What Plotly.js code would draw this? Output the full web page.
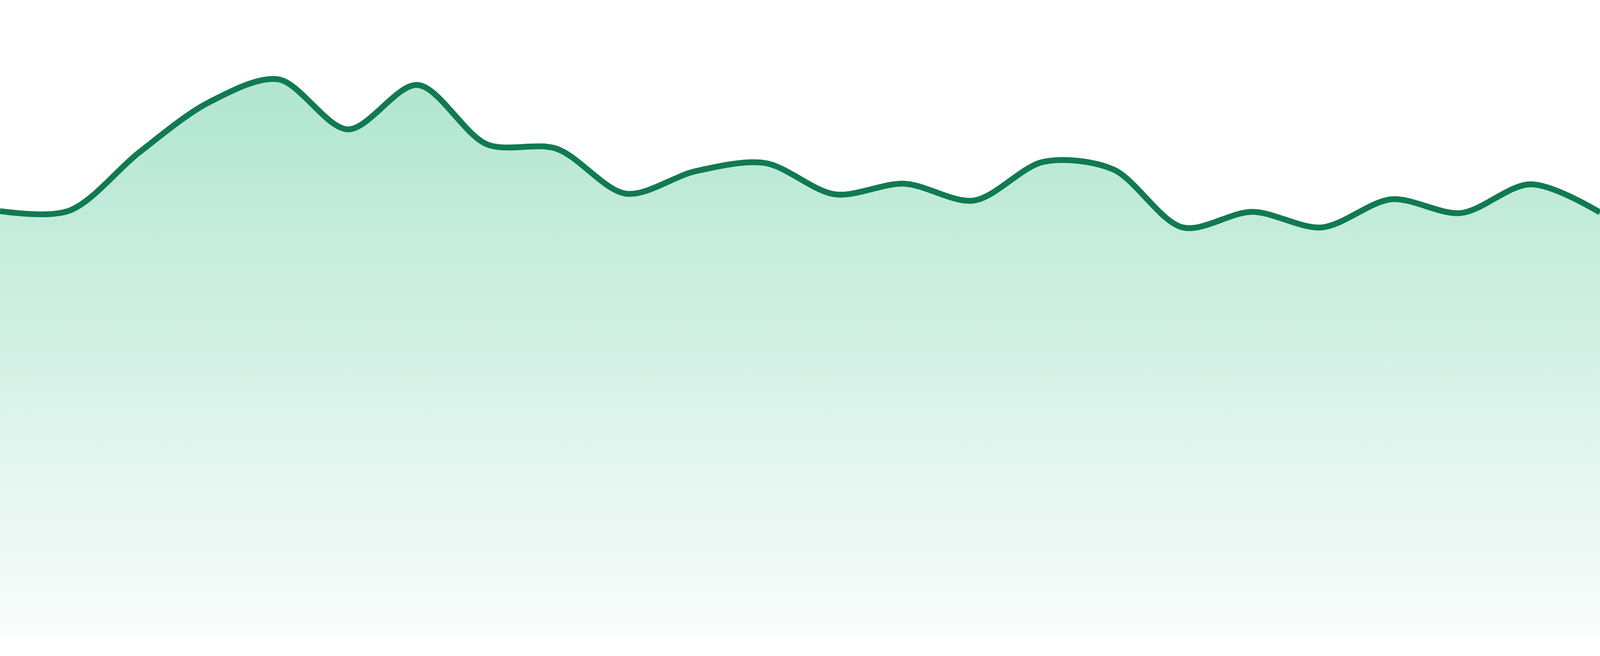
<!DOCTYPE html>
<html>
<head>
<meta charset="utf-8">
<script src="https://cdn.plot.ly/plotly-3.0.1.min.js"></script>
<style>
  html, body { margin: 0; padding: 0; background: #ffffff; overflow: hidden; width: 100%; height: 100%; }
  #chart { width: 100vw; height: 100vh; }
</style>
</head>
<body>
<div id="chart"></div>
<script>
// Data (24 evenly spaced points)
const xIndex = [0,1,2,3,4,5,6,7,8,9,10,11,12,13,14,15,16,17,18,19,20,21,22,23];
const values = [68.2, 68.3, 77.6, 85.6, 89.3, 81.3, 88.4, 78.9, 78.2, 71.0, 74.6, 75.9,
                70.9, 72.6, 69.9, 76.1, 74.9, 65.6, 68.1, 65.6, 70.1, 67.9, 72.5, 68.0];

const lineColor = '#117a52';
const fillTop = 'rgb(176,229,209)';
const fillBottom = 'rgb(250,253,252)';
const yMax = 100;

const W = window.innerWidth || 4800;
const H = window.innerHeight || 1680;
const s = H / 1680;

const trace = {
  x: xIndex,
  y: values,
  type: 'scatter',
  mode: 'lines',
  line: { color: lineColor, width: 15 * s, shape: 'spline', smoothing: 0.9 },
  fill: 'tozeroy',
  fillgradient: {
    type: 'vertical',
    start: 0,
    stop: Math.max(...values),
    colorscale: [[0, fillBottom], [1, fillTop]]
  },
  hoverinfo: 'skip',
  showlegend: false
};

const layout = {
  width: W,
  height: H,
  margin: { l: 0, r: 0, t: 32 * s, b: 48 * s, pad: 0 },
  paper_bgcolor: '#ffffff',
  plot_bgcolor: '#ffffff',
  showlegend: false,
  xaxis: { range: [0, 23], visible: false, showgrid: false, zeroline: false, fixedrange: true },
  yaxis: { range: [0, yMax], visible: false, showgrid: false, zeroline: false, fixedrange: true },
  hovermode: false
};

Plotly.newPlot('chart', [trace], layout, { displayModeBar: false, staticPlot: true });
</script>
</body>
</html>
